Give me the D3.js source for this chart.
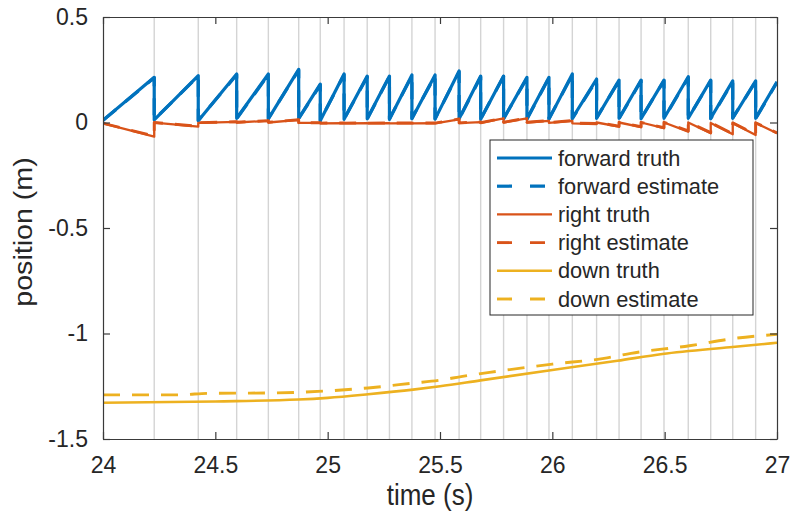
<!DOCTYPE html>
<html>
<head>
<meta charset="utf-8">
<script src="https://cdn.jsdelivr.net/npm/d3@7"></script>
<style>
  html, body { margin: 0; padding: 0; background: #ffffff; }
  svg { display: block; }
  text { font-family: "Liberation Sans", Arial, Helvetica, sans-serif; fill: #262626; }
</style>
</head>
<body>
<svg id="chart" width="790" height="515"></svg>
<script>
// Instants (s) at which the forward/right position estimates are reset
const resetTimes = [24.228, 24.424, 24.595, 24.736, 24.871, 24.967, 25.073, 25.176, 25.275,
  25.375, 25.478, 25.585, 25.681, 25.783, 25.887, 25.985, 26.089, 26.197, 26.297, 26.395,
  26.497, 26.605, 26.705, 26.803, 26.905];

// Forward (m): value at the start and at the end of each interval between resets
const forwardStart = [0.010, 0.012, 0.008, 0.020, 0.017, 0.020, 0.008, 0.015, 0.018, 0.015,
  0.018, 0.016, 0.018, 0.015, 0.017, 0.018, 0.016, 0.020, 0.020, 0.020, 0.018, 0.020, 0.020,
  0.020, 0.020, 0.020];
const forwardEnd = [0.214, 0.222, 0.230, 0.230, 0.252, 0.182, 0.230, 0.220, 0.220, 0.225,
  0.225, 0.244, 0.220, 0.220, 0.214, 0.214, 0.230, 0.206, 0.201, 0.201, 0.201, 0.217, 0.201,
  0.197, 0.197, 0.193];
const forwardEstStart = [0.010, 0.014, 0.010, 0.018, 0.019, 0.018, 0.010, 0.017, 0.016, 0.017,
  0.020, 0.018, 0.016, 0.017, 0.019, 0.016, 0.018, 0.018, 0.022, 0.018, 0.020, 0.018, 0.022,
  0.018, 0.022, 0.018];
const forwardEstEnd = [0.212, 0.220, 0.226, 0.226, 0.248, 0.178, 0.226, 0.216, 0.218, 0.221,
  0.221, 0.240, 0.216, 0.218, 0.210, 0.212, 0.226, 0.202, 0.198, 0.198, 0.198, 0.213, 0.198,
  0.194, 0.194, 0.190];

// Right (m)
const rightStart = [-0.004, -0.001, -0.002, 0.000, 0.000, -0.002, -0.004, -0.004, -0.004, -0.004,
  -0.004, -0.004, -0.003, -0.002, 0.000, 0.000, -0.002, -0.004, 0.000, 0.000, 0.000, 0.000,
  0.000, -0.002, -0.003, -0.002];
const rightEnd = [-0.067, -0.020, 0.003, 0.008, 0.012, -0.002, -0.003, -0.003, -0.003, -0.003,
  -0.003, 0.015, 0.002, 0.020, 0.020, 0.008, 0.008, -0.007, -0.020, -0.022, -0.027, -0.043,
  -0.051, -0.056, -0.059, -0.051];
const rightEstStart = [-0.004, 0.000, -0.001, 0.001, 0.001, -0.001, -0.003, -0.003, -0.003, -0.003,
  -0.003, -0.003, -0.002, -0.001, 0.001, 0.001, -0.001, -0.003, 0.001, 0.001, 0.001, 0.001,
  0.001, -0.001, -0.002, -0.001];
const rightEstEnd = [-0.064, -0.018, 0.004, 0.009, 0.013, -0.001, -0.002, -0.002, -0.002, -0.002,
  -0.002, 0.017, 0.003, 0.021, 0.021, 0.009, 0.009, -0.005, -0.018, -0.020, -0.025, -0.040,
  -0.048, -0.053, -0.056, -0.049];

// Down (m)
const downTime = [24.0, 24.5, 24.87, 25.0, 25.18, 25.38, 25.5, 25.68, 26.0, 26.29, 26.49, 26.79, 27.0];
const downTruth = [-1.328, -1.322, -1.313, -1.305, -1.288, -1.266, -1.250, -1.222, -1.173,
  -1.129, -1.097, -1.065, -1.044];
const downEstTime = [24.0, 24.31, 24.5, 24.74, 25.0, 25.18, 25.38, 25.5, 25.6, 25.75, 26.0,
  26.23, 26.35, 26.61, 26.82, 27.0];
const downEstimate = [-1.291, -1.291, -1.283, -1.282, -1.272, -1.258, -1.235, -1.221, -1.203,
  -1.180, -1.145, -1.118, -1.094, -1.058, -1.022, -1.004];

// Axis ticks
const xTicks = [24, 24.5, 25, 25.5, 26, 26.5, 27];
const xTickLabels = ["24", "24.5", "25", "25.5", "26", "26.5", "27"];
const yTicks = [0.5, 0, -0.5, -1, -1.5];
const yTickLabels = ["0.5", "0", "-0.5", "-1", "-1.5"];

const seriesNames = ["forward truth", "forward estimate", "right truth", "right estimate",
  "down truth", "down estimate"];

const C_BLUE = "#0072BD", C_ORANGE = "#D95319", C_YELLOW = "#EDB120";
const DASH = "17,12";

const svg = d3.select("#chart");
const pLeft = 103, pRight = 777, pTop = 17, pBottom = 439;

const x = d3.scaleLinear().domain([24, 27]).range([pLeft, pRight]);
const y = d3.scaleLinear().domain([-1.5, 0.5]).range([pBottom, pTop]);

// Build a reset-sawtooth polyline from per-interval start/end values
function sawtooth(starts, ends) {
  const bounds = [24, ...resetTimes, 27];
  const pts = [];
  for (let i = 0; i < starts.length; i++) {
    pts.push([bounds[i], starts[i]]);
    pts.push([bounds[i + 1], ends[i]]);
  }
  return pts;
}

svg.append("defs").append("clipPath").attr("id", "plotClip")
  .append("rect").attr("x", pLeft).attr("y", pTop)
  .attr("width", pRight - pLeft).attr("height", pBottom - pTop);

// Reset markers
svg.append("g").selectAll("line").data(resetTimes).join("line")
  .attr("x1", d => x(d)).attr("x2", d => x(d))
  .attr("y1", pTop).attr("y2", pBottom)
  .attr("stroke", "#d4d4d4").attr("stroke-width", 1.4);

const line = d3.line().x(d => x(d[0])).y(d => y(d[1]));
const smooth = d3.line().x(d => x(d[0])).y(d => y(d[1])).curve(d3.curveMonotoneX);

const plot = svg.append("g").attr("clip-path", "url(#plotClip)")
  .attr("fill", "none").attr("stroke-linejoin", "round");

const series = [
  { pts: sawtooth(forwardStart, forwardEnd), color: C_BLUE, w: 3.2, dash: null, gen: line },
  { pts: sawtooth(forwardEstStart, forwardEstEnd), color: C_BLUE, w: 3.2, dash: DASH, gen: line },
  { pts: sawtooth(rightStart, rightEnd), color: C_ORANGE, w: 2.3, dash: null, gen: line },
  { pts: sawtooth(rightEstStart, rightEstEnd), color: C_ORANGE, w: 2.9, dash: DASH, gen: line },
  { pts: downTime.map((t, i) => [t, downTruth[i]]), color: C_YELLOW, w: 2.6, dash: null, gen: smooth },
  { pts: downEstTime.map((t, i) => [t, downEstimate[i]]), color: C_YELLOW, w: 2.9, dash: DASH, gen: smooth }
];

series.forEach(s => {
  plot.append("path").attr("d", s.gen(s.pts))
    .attr("stroke", s.color).attr("stroke-width", s.w)
    .attr("stroke-dasharray", s.dash);
});

// Axes: box with inward ticks on all four sides
const axisColor = "#3a3a3a";
function styleAxis(g) {
  g.select(".domain").attr("stroke", axisColor).attr("stroke-width", 1.2);
  g.selectAll(".tick line").attr("stroke", axisColor).attr("stroke-width", 1.2);
  g.selectAll(".tick text").attr("fill", "#262626")
    .style("font-family", '"Liberation Sans", Arial, sans-serif').style("font-size", "23px");
}

svg.append("g").attr("transform", `translate(0,${pBottom})`)
  .call(d3.axisBottom(x).tickValues(xTicks).tickFormat((d, i) => xTickLabels[i])
    .tickSizeInner(-7).tickSizeOuter(0).tickPadding(18))
  .call(styleAxis);
svg.append("g").attr("transform", `translate(0,${pTop})`)
  .call(d3.axisTop(x).tickValues(xTicks).tickFormat("").tickSizeInner(-7).tickSizeOuter(0))
  .call(styleAxis);
svg.append("g").attr("transform", `translate(${pLeft},0)`)
  .call(d3.axisLeft(y).tickValues(yTicks).tickFormat((d, i) => yTickLabels[i])
    .tickSizeInner(-7).tickSizeOuter(0).tickPadding(15))
  .call(styleAxis);
svg.append("g").attr("transform", `translate(${pRight},0)`)
  .call(d3.axisRight(y).tickValues(yTicks).tickFormat("").tickSizeInner(-7).tickSizeOuter(0))
  .call(styleAxis);

// Axis titles
svg.append("text").attr("transform", "translate(430,505) scale(1,1.1)")
  .attr("text-anchor", "middle").style("font-size", "26px").text("time (s)");
svg.append("text").attr("transform", "translate(32,232) rotate(-90) scale(1.1,1)")
  .attr("text-anchor", "middle").style("font-size", "26px").text("position (m)");

// Legend
const legend = svg.append("g");
legend.append("rect").attr("x", 490).attr("y", 140).attr("width", 263).attr("height", 175)
  .attr("fill", "#ffffff").attr("stroke", "#262626").attr("stroke-width", 1);
const rowY = i => 158 + i * 28.2;
series.forEach((s, i) => {
  legend.append("line").attr("x1", 497).attr("x2", 552)
    .attr("y1", rowY(i)).attr("y2", rowY(i))
    .attr("stroke", s.color).attr("stroke-width", s.w)
    .attr("stroke-dasharray", s.dash ? "15,18" : null);
  legend.append("text").attr("x", 558).attr("y", rowY(i) + 7.5)
    .style("font-size", "21.8px").text(seriesNames[i]);
});
</script>
</body>
</html>
